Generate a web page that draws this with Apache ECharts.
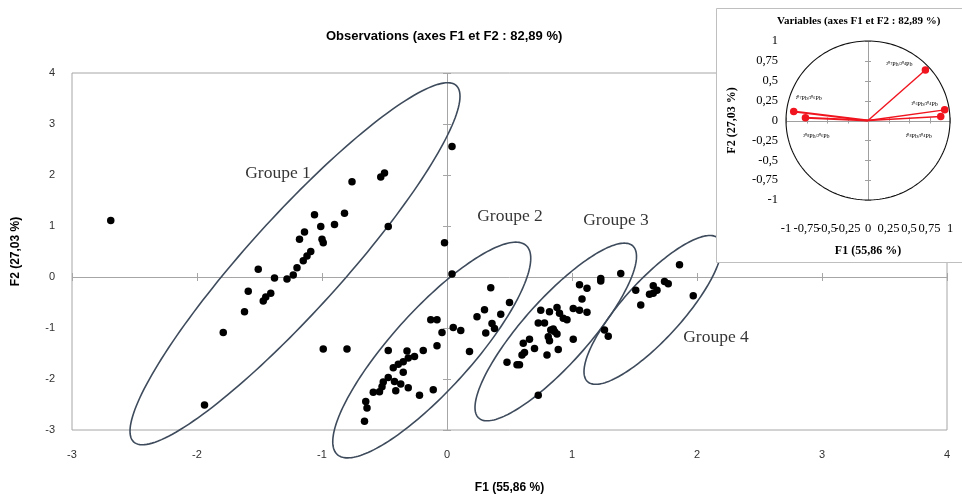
<!DOCTYPE html>
<html><head><meta charset="utf-8">
<script src="https://cdn.jsdelivr.net/npm/echarts@6/dist/echarts.min.js"></script>
<style>html,body{margin:0;padding:0;background:#fff}#c{width:962px;height:499px}</style>
</head><body><div id="c"></div>
<script>
// ---------- data ----------
const xTicks = [-3, -2, -1, 0, 1, 2, 3, 4];
const yTicks = [-3, -2, -1, 0, 1, 2, 3, 4];

const group1 = [[-0.50,2.04],[-0.53,1.96],[-0.76,1.87],[-0.82,1.25],[-1.06,1.22],[-0.90,1.03],[-1.01,0.99],[-0.47,0.99],[-1.14,0.88],[-1.18,0.74],[-1.00,0.74],[-0.99,0.67],[-1.09,0.50],[-1.12,0.41],[-1.15,0.32],[-1.20,0.18],[-1.51,0.15],[-1.23,0.04],[-1.28,-0.04],[-1.38,-0.02],[-1.59,-0.28],[-1.41,-0.32],[-1.45,-0.39],[-1.47,-0.47],[-1.62,-0.68],[-1.79,-1.09],[-1.94,-2.51]];
const group2 = [[0.35,-0.21],[0.50,-0.50],[0.30,-0.64],[0.24,-0.78],[0.43,-0.73],[0.36,-0.91],[0.38,-1.01],[0.31,-1.10],[-0.13,-0.84],[-0.08,-0.84],[0.05,-0.99],[0.11,-1.05],[-0.04,-1.09],[-0.08,-1.35],[0.18,-1.46],[-0.19,-1.44],[-0.47,-1.44],[-0.32,-1.45],[-0.26,-1.56],[-0.31,-1.59],[-0.35,-1.66],[-0.39,-1.71],[-0.43,-1.78],[-0.35,-1.87],[-0.47,-1.97],[-0.51,-2.06],[-0.42,-2.05],[-0.37,-2.10],[-0.31,-2.17],[-0.52,-2.15],[-0.54,-2.25],[-0.59,-2.26],[-0.41,-2.23],[-0.22,-2.32],[-0.11,-2.21],[-0.65,-2.44],[-0.64,-2.57],[-0.66,-2.83]];
const group3 = [[0.75,-0.65],[0.82,-0.68],[0.88,-0.60],[0.90,-0.71],[0.93,-0.81],[0.96,-0.84],[1.01,-0.62],[0.73,-0.90],[0.78,-0.90],[0.83,-1.04],[0.86,-1.07],[0.88,-1.12],[0.81,-1.17],[0.82,-1.25],[1.01,-1.22],[0.66,-1.22],[0.61,-1.30],[0.62,-1.48],[0.60,-1.53],[0.70,-1.40],[0.80,-1.53],[0.89,-1.42],[0.48,-1.67],[0.56,-1.72],[0.58,-1.72],[0.73,-2.32],[1.06,-0.15],[1.12,-0.22],[1.23,-0.03],[1.23,-0.08],[1.39,0.07],[1.08,-0.43],[1.06,-0.65],[1.12,-0.69],[1.26,-1.04],[1.29,-1.16],[0.85,-1.02]];
const group4 = [[1.51,-0.26],[1.55,-0.55],[1.65,-0.17],[1.62,-0.34],[1.65,-0.32],[1.68,-0.26],[1.74,-0.09],[1.77,-0.13],[1.86,0.24],[1.97,-0.37]];
const others = [[-2.69,1.11],[0.04,2.56],[-0.02,0.67],[0.04,0.06],[-0.99,-1.41],[-0.80,-1.41]];

// confidence ellipses (data units): centre, half extents, shape coefficient
const groupNames = ['Groupe 1', 'Groupe 2', 'Groupe 3', 'Groupe 4'];
const ellipseCx = [-1.216, -0.122, 0.870, 1.646];
const ellipseCy = [0.26, -1.432, -1.078, -0.645];
const ellipseRx = [1.32, 0.792, 0.646, 0.550];
const ellipseRy = [3.549, 2.115, 1.742, 1.459];
const ellipseRho = [0.925, 0.85, 0.85, 0.83];
const groupLabelX = [-1.352, 0.504, 1.352, 2.152];
const groupLabelY = [2.03, 1.19, 1.11, -1.19];

// correlation circle
const insetTicks = [-1, -0.75, -0.5, -0.25, 0, 0.25, 0.5, 0.75, 1];
const vecNames = ['²⁰⁷Pb/²⁰⁴Pb', '²⁰⁶Pb/²⁰⁴Pb', '²⁰⁸Pb/²⁰⁴Pb', '²⁰⁷Pb/²⁰⁶Pb', '²⁰⁸Pb/²⁰⁶Pb'];
const vecF1 = [0.70, 0.935, 0.887, -0.906, -0.763];
const vecF2 = [0.636, 0.134, 0.05, 0.113, 0.034];

// ---------- rendering ----------
const chart = echarts.init(document.getElementById('c'));
const px = v => Math.round(v) + 0.5;
function crossAxes(xt, yt, color, tl) {
  return function (params, api) {
    const o = api.coord([0, 0]);
    const l = api.coord([xt[0], 0]), r = api.coord([xt[xt.length - 1], 0]);
    const b = api.coord([0, yt[0]]), t = api.coord([0, yt[yt.length - 1]]);
    const st = { stroke: color, lineWidth: 1 };
    const ch = [
      { type: 'line', shape: { x1: l[0], y1: px(o[1]), x2: r[0], y2: px(o[1]) }, style: st },
      { type: 'line', shape: { x1: px(o[0]), y1: b[1], x2: px(o[0]), y2: t[1] }, style: st }
    ];
    xt.forEach(v => { if (v === 0) return; const p = api.coord([v, 0]);
      ch.push({ type: 'line', shape: { x1: px(p[0]), y1: p[1] - tl, x2: px(p[0]), y2: p[1] + tl }, style: st }); });
    yt.forEach(v => { if (v === 0) return; const p = api.coord([0, v]);
      ch.push({ type: 'line', shape: { x1: p[0] - tl, y1: px(p[1]), x2: p[0] + tl, y2: px(p[1]) }, style: st }); });
    return { type: 'group', children: ch };
  };
}
const fmt = v => String(v).replace('.', ',');
const sans = 'Liberation Sans';
const serif = 'Liberation Serif';
const dot = d => ({ type: 'scatter', xAxisIndex: 0, yAxisIndex: 0, data: d, symbolSize: 7.5,
  itemStyle: { color: '#000', opacity: 1 }, z: 5, silent: true });

const option = {
  animation: false,
  title: [
    { text: 'Observations (axes F1 et F2 : 82,89 %)', left: 326, top: 30, padding: 0,
      textStyle: { fontFamily: sans, fontSize: 13, fontWeight: 'bold', color: '#000' } },
    { text: 'Variables (axes F1 et F2 : 82,89 %)', left: 777, top: 16, padding: 0, z: 40,
      textStyle: { fontFamily: serif, fontSize: 11, fontWeight: 'bold', color: '#000' } }
  ],
  graphic: { elements: [
    { type: 'rect', z: 25, shape: { x: 716.5, y: 8.5, width: 260, height: 254 },
      style: { fill: '#fff', stroke: '#bfbfbf', lineWidth: 1 } }
  ] },
  grid: [
    { left: 72, top: 73, width: 875, height: 360, show: true, borderColor: '#a6a6a6', borderWidth: 1 },
    { left: 786, top: 41, width: 164, height: 159, z: 30 }
  ],
  xAxis: [
    { gridIndex: 0, type: 'value', min: xTicks[0], max: xTicks[xTicks.length - 1], interval: 1,
      axisLine: { show: false }, axisTick: { show: false }, splitLine: { show: false },
      axisLabel: { margin: 19, color: '#303030', fontFamily: sans, fontSize: 11 },
      name: 'F1 (55,86 %)', nameLocation: 'middle', nameGap: 52,
      nameTextStyle: { fontFamily: sans, fontSize: 12, fontWeight: 'bold', color: '#000' } },
    { gridIndex: 1, type: 'value', min: -1, max: 1, interval: 0.25, z: 30,
      axisLine: { show: false }, axisTick: { show: false }, splitLine: { show: false },
      axisLabel: { interval: 0, margin: 22, formatter: fmt, color: '#000', fontFamily: serif, fontSize: 12.5 },
      name: 'F1 (55,86 %)', nameLocation: 'middle', nameGap: 45,
      nameTextStyle: { fontFamily: serif, fontSize: 12, fontWeight: 'bold', color: '#000' } }
  ],
  yAxis: [
    { gridIndex: 0, type: 'value', min: yTicks[0], max: yTicks[yTicks.length - 1], interval: 1,
      axisLine: { show: false }, axisTick: { show: false }, splitLine: { show: false },
      axisLabel: { margin: 17, color: '#303030', fontFamily: sans, fontSize: 11 },
      name: 'F2 (27,03 %)', nameLocation: 'middle', nameGap: 50, nameRotate: 90,
      nameTextStyle: { fontFamily: sans, fontSize: 12, fontWeight: 'bold', color: '#000' } },
    { gridIndex: 1, type: 'value', min: -1, max: 1, interval: 0.25, z: 30,
      axisLine: { show: false }, axisTick: { show: false }, splitLine: { show: false },
      axisLabel: { interval: 0, margin: 8, formatter: fmt, color: '#000', fontFamily: serif, fontSize: 12.5 },
      name: 'F2 (27,03 %)', nameLocation: 'middle', nameGap: 48, nameRotate: 90,
      nameTextStyle: { fontFamily: serif, fontSize: 12, fontWeight: 'bold', color: '#000' } }
  ],
  series: [
    { type: 'custom', xAxisIndex: 0, yAxisIndex: 0, data: [[0, 0]], z: 1, silent: true,
      renderItem: crossAxes(xTicks, yTicks, '#a6a6a6', 4) },
    { type: 'custom', xAxisIndex: 0, yAxisIndex: 0, z: 3, silent: true, clip: false,
      data: ellipseCx.map((c, i) => [c, ellipseCy[i]]),
      renderItem: function (params, api) {
        const i = params.dataIndex, pts = [];
        const phi = Math.acos(ellipseRho[i]);
        for (let k = 0; k <= 180; k++) {
          const t = k / 180 * 2 * Math.PI;
          pts.push(api.coord([ellipseCx[i] + ellipseRx[i] * Math.cos(t),
                              ellipseCy[i] + ellipseRy[i] * Math.cos(t + phi)]));
        }
        return { type: 'polygon', shape: { points: pts },
          style: { fill: 'none', stroke: '#3e4b5c', lineWidth: 1.6 } };
      } },
    { type: 'scatter', xAxisIndex: 0, yAxisIndex: 0, symbolSize: 0, z: 4, silent: true,
      data: groupNames.map((n, i) => ({ value: [groupLabelX[i], groupLabelY[i]], name: n })),
      label: { show: true, position: 'inside', formatter: '{b}', color: '#000',
        fontFamily: serif, fontSize: 17.5 } },
    dot(group1), dot(group2), dot(group3), dot(group4), dot(others),
    // inset
    { type: 'custom', xAxisIndex: 1, yAxisIndex: 1, data: [[0, 0]], z: 30, silent: true,
      renderItem: crossAxes(insetTicks, insetTicks, '#a0a0a0', 3) },
    { type: 'custom', xAxisIndex: 1, yAxisIndex: 1, data: [[0, 0]], z: 31, silent: true, clip: false,
      renderItem: function (params, api) {
        const pts = [];
        for (let k = 0; k <= 180; k++) {
          const t = k / 180 * 2 * Math.PI;
          pts.push(api.coord([Math.cos(t), Math.sin(t)]));
        }
        return { type: 'polygon', shape: { points: pts }, style: { fill: 'none', stroke: '#111', lineWidth: 1.1 } };
      } },
    { type: 'custom', xAxisIndex: 1, yAxisIndex: 1, z: 32, silent: true,
      data: vecF1.map((x, i) => [x, vecF2[i]]),
      renderItem: function (params, api) {
        const o = api.coord([0, 0]), p = api.coord([api.value(0), api.value(1)]);
        return { type: 'line', shape: { x1: o[0], y1: o[1], x2: p[0], y2: p[1] },
          style: { stroke: '#f0141e', lineWidth: api.value(0) < 0 ? 2 : 1.4 } };
      } },
    { type: 'scatter', xAxisIndex: 1, yAxisIndex: 1, z: 33, silent: true, symbolSize: 7.5,
      itemStyle: { color: '#f0141e', opacity: 1 },
      data: vecF1.map((x, i) => ({ value: [x, vecF2[i]], name: vecNames[i],
        label: { offset: [[-26, -6], [-20, -5], [-22, 20], [15, -13], [11, 19]][i] } })),
      label: { show: true, position: 'inside', formatter: '{b}', color: '#000',
        fontFamily: serif, fontSize: 6 } }
  ]
};
chart.setOption(option);
</script></body></html>
